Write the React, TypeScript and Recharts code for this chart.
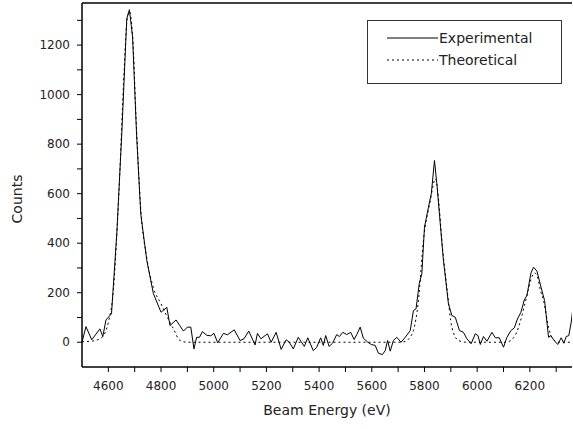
import React from 'react';
import { LineChart, Line, XAxis, YAxis, Legend, ReferenceLine } from 'recharts';

const expEnergy = [
  4500, 4515, 4537, 4568, 4579, 4591, 4612, 4632, 4651, 4670, 4680, 4692, 4707, 4723, 4746, 4771,
  4800, 4822, 4834, 4857, 4885, 4900, 4913, 4925, 4935, 4946, 4957, 4974, 4989, 5001, 5015, 5037,
  5052, 5078, 5100, 5115, 5133, 5157, 5166, 5179, 5204, 5218, 5237, 5256, 5275, 5287, 5302, 5321,
  5344, 5357, 5378, 5391, 5406, 5416, 5425, 5438, 5451, 5467, 5477, 5490, 5505, 5520, 5533, 5543,
  5556, 5568, 5585, 5598, 5613, 5625, 5640, 5651, 5660, 5670, 5682, 5695, 5711, 5727, 5746, 5758,
  5768, 5780, 5790, 5800, 5815, 5826, 5838, 5847, 5860, 5872, 5891, 5904, 5917, 5933, 5948, 5961,
  5977, 5993, 6003, 6012, 6024, 6037, 6056, 6069, 6084, 6100, 6113, 6128, 6141, 6153, 6166, 6179,
  6189, 6204, 6214, 6227, 6243, 6256, 6271, 6280, 6290, 6306, 6319, 6329, 6338, 6348, 6357, 6362,
];
const expCounts = [
  0, 63, 10, 54, 23, 90, 115, 438, 842, 1307, 1343, 1232, 842, 519, 330, 196,
  121, 141, 67, 90, 45, 61, 61, -27, 20, 20, 43, 28, 26, 36, -2, 36,
  30, 50, 7, 14, 45, -11, 36, 14, 34, 0, 40, -29, 10, 0, -27, 20,
  -17, 18, -34, -20, 18, -13, 27, -17, -4, 31, 23, 40, 31, 40, 11, 31,
  61, 16, 0, -9, -13, -44, -50, -34, 7, -36, 7, 20, 0, 20, 47, 128,
  135, 236, 276, 465, 545, 600, 734, 640, 478, 330, 155, 108, 101, 47, 40, 14,
  -6, 34, 27, -9, 23, 4, 40, 18, 18, -20, 20, 47, 58, 94, 121, 171,
  189, 279, 303, 287, 220, 168, 20, 27, 10, -9, 18, -4, 23, 27, 81, 125,
];

// Fitted curve
const theoEnergy = [
  4500, 4540, 4570, 4590, 4600, 4619, 4640, 4660, 4670, 4680, 4692, 4707, 4723, 4746, 4771, 4800,
  4820, 4847, 4872, 4900, 5700, 5727, 5745, 5758, 5777, 5796, 5820, 5842, 5855, 5866, 5885, 5904,
  5929, 5960, 6100, 6120, 6138, 6150, 6163, 6180, 6195, 6208, 6218, 6230, 6240, 6252, 6271, 6284,
  6310, 6360,
];
const theoCounts = [
  2, 5, 15, 45, 80, 209, 600, 1100, 1290, 1335, 1240, 860, 540, 340, 220, 155,
  110, 54, 7, 0, 0, 3, 20, 47, 167, 411, 560, 660, 560, 411, 222, 61,
  7, 0, 0, 3, 18, 40, 81, 150, 215, 265, 280, 260, 210, 168, 61, 18,
  0, 0,
];

const seriesNames = ['Experimental', 'Theoretical'];
const xTicks = [4600, 4700, 4800, 4900, 5000, 5100, 5200, 5300, 5400, 5500, 5600, 5700, 5800, 5900, 6000, 6100, 6200, 6300];
const yTicks = [0, 100, 200, 300, 400, 500, 600, 700, 800, 900, 1000, 1100, 1200, 1300];
const xDomain = [4500, 6360];
const yDomain = [-100, 1370];

const expData = expEnergy.map((e, i) => ({ energy: e, counts: expCounts[i] }));
const theoData = theoEnergy.map((e, i) => ({ energy: e, counts: theoCounts[i] }));

const FONT = 'DejaVu Sans';
const everyOther = (v: number) => (v % 200 === 0 ? String(v) : '');

const LegendBox = () => (
  <div
    style={{
      border: '1px solid #333',
      width: 193,
      height: 56,
      boxSizing: 'content-box',
      background: '#fff',
      fontFamily: FONT,
      fontSize: 14,
      color: '#222',
      paddingTop: 6,
    }}
  >
    {seriesNames.map((name, i) => (
      <div key={name} style={{ display: 'flex', alignItems: 'center', height: 22 }}>
        <svg width={71} height={10} style={{ display: 'block' }}>
          <line
            x1={19}
            x2={70}
            y1={5}
            y2={5}
            stroke="#000"
            strokeWidth={1}
            strokeDasharray={i === 1 ? '2 3' : undefined}
          />
        </svg>
        <span>{name}</span>
      </div>
    ))}
  </div>
);

export default function App() {
  return (
    <div style={{ position: 'absolute', left: 0, top: 0, width: 573, height: 429, background: '#fff' }}>
      <LineChart width={573} height={429} margin={{ top: 3, right: 1, left: 0, bottom: 0 }}>
        <XAxis
          dataKey="energy"
          type="number"
          domain={xDomain}
          allowDataOverflow
          ticks={xTicks}
          tickFormatter={everyOther}
          interval={0}
          height={62}
          tickSize={5}
          tickMargin={9}
          stroke="#000"
          axisLine={{ stroke: '#000', strokeWidth: 1.5 }}
          tickLine={{ stroke: '#000' }}
          tick={{ fontSize: 12, fill: '#222', fontFamily: FONT }}
          label={{
            value: 'Beam Energy (eV)',
            content: (p: any) => (
              <text
                x={p.viewBox.x + p.viewBox.width / 2}
                y={p.viewBox.y + 48}
                textAnchor="middle"
                fontSize={14}
                fontFamily={FONT}
                fill="#222"
              >
                Beam Energy (eV)
              </text>
            ),
          }}
        />
        <YAxis
          type="number"
          domain={yDomain}
          allowDataOverflow
          ticks={yTicks}
          tickFormatter={everyOther}
          interval={0}
          width={82}
          tickSize={5}
          tickMargin={7}
          axisLine={{ stroke: '#000', strokeWidth: 1.5 }}
          tickLine={{ stroke: '#000' }}
          tick={{ fontSize: 12, fill: '#222', fontFamily: FONT }}
          label={{
            value: 'Counts',
            content: (p: any) => {
              const cx = p.viewBox.x + 22;
              const cy = p.viewBox.y + 196;
              return (
                <text
                  x={cx}
                  y={cy}
                  transform={`rotate(-90 ${cx} ${cy})`}
                  textAnchor="middle"
                  fontSize={14}
                  fontFamily={FONT}
                  fill="#222"
                >
                  Counts
                </text>
              );
            },
          }}
        />
        <ReferenceLine y={yDomain[1]} stroke="#000" strokeWidth={1.5} />
        <Line
          data={theoData}
          dataKey="counts"
          name={seriesNames[1]}
          stroke="#000"
          strokeWidth={1}
          strokeDasharray="2 3"
          dot={false}
          type="monotone"
          isAnimationActive={false}
        />
        <Line
          data={expData}
          dataKey="counts"
          name={seriesNames[0]}
          stroke="#000"
          strokeWidth={1}
          dot={false}
          type="linear"
          isAnimationActive={false}
        />
        <Legend
          layout="horizontal"
          verticalAlign="middle"
          align="center"
          wrapperStyle={{ left: 367, top: 20, width: 195, height: 58 }}
          content={() => <LegendBox />}
        />
      </LineChart>
    </div>
  );
}
